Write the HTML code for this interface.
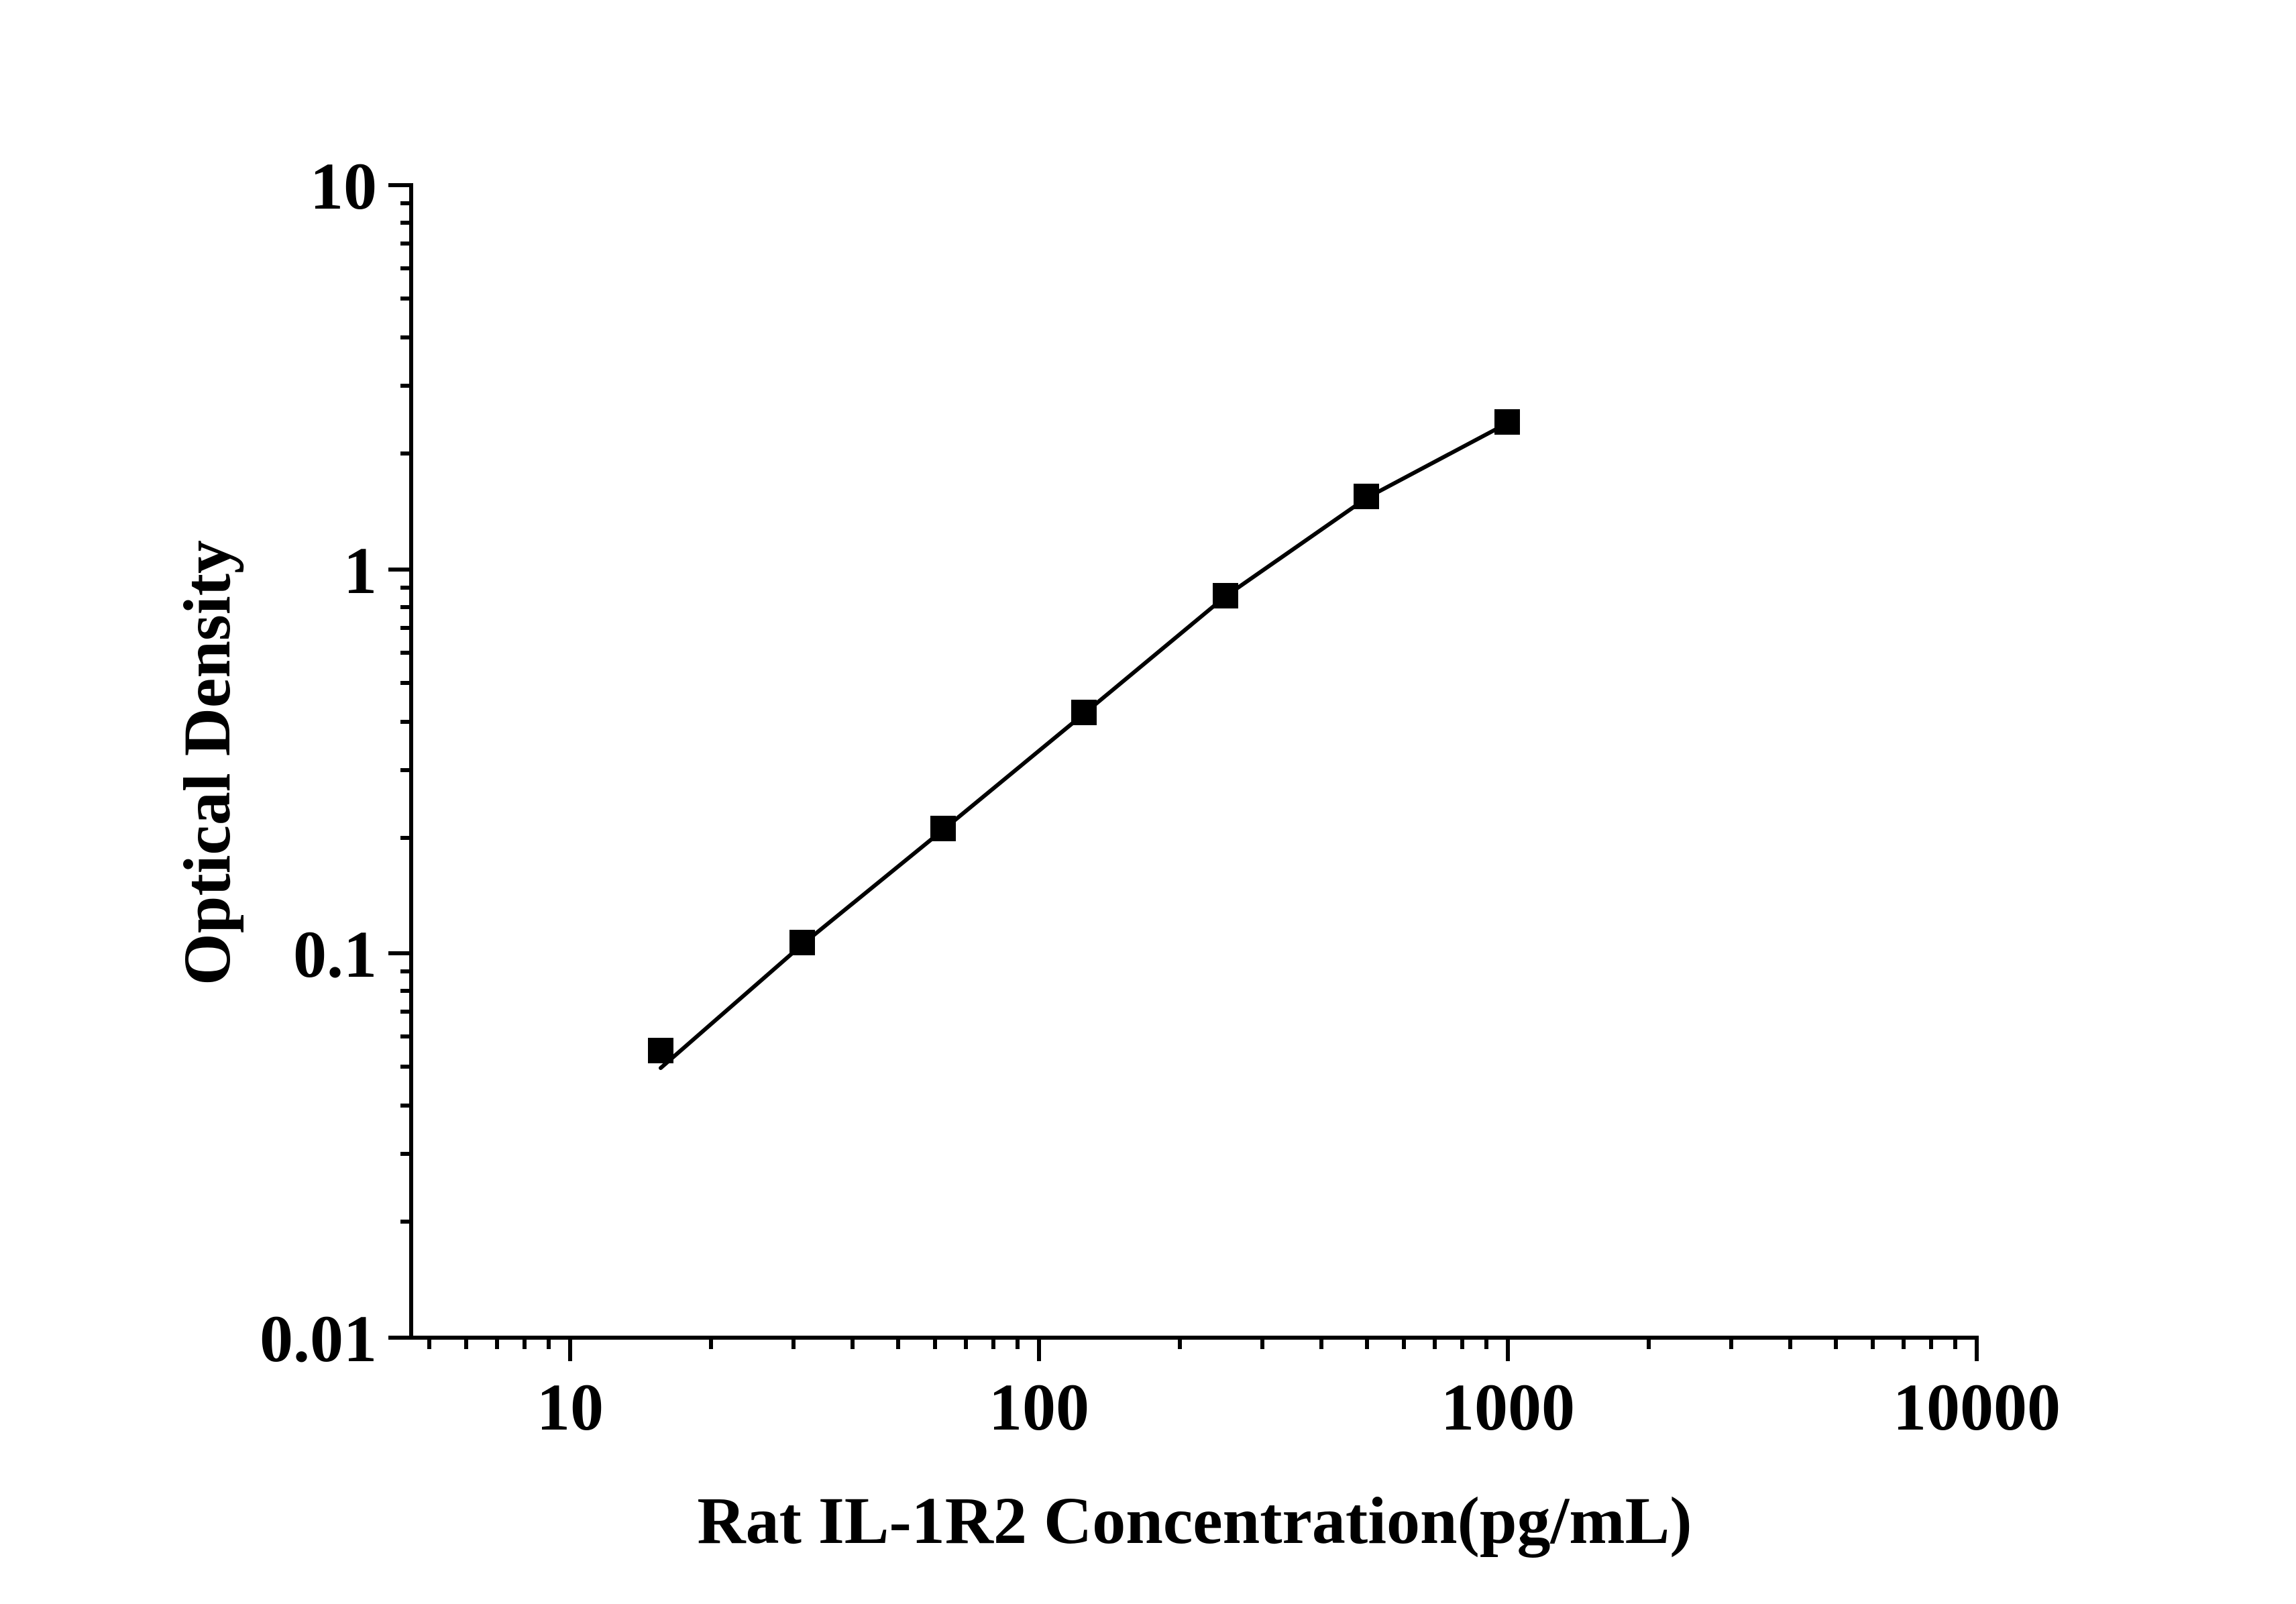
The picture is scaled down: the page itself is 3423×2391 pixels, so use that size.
<!DOCTYPE html>
<html><head><meta charset="utf-8"><style>
html,body{margin:0;padding:0;background:#fff;}
svg{display:block;}
text{font-family:"Liberation Serif",serif;font-weight:bold;fill:#000;}
</style></head><body>
<svg width="3423" height="2391" viewBox="0 0 3423 2391" xmlns="http://www.w3.org/2000/svg">
<rect width="3423" height="2391" fill="#fff"/>
<g stroke="#000" stroke-width="6" fill="none">
<line x1="613" y1="273" x2="613" y2="1997"/>
<line x1="580" y1="1994" x2="2950" y2="1994"/>
<!-- y major ticks -->
<line x1="579" y1="276" x2="613" y2="276"/>
<line x1="579" y1="849" x2="613" y2="849"/>
<line x1="579" y1="1421" x2="613" y2="1421"/>
<line x1="579" y1="1994" x2="613" y2="1994"/>
<!-- y minor ticks -->
<g id="ym">
<line x1="597" y1="303" x2="613" y2="303"/>
<line x1="597" y1="332" x2="613" y2="332"/>
<line x1="597" y1="363" x2="613" y2="363"/>
<line x1="597" y1="400" x2="613" y2="400"/>
<line x1="597" y1="445" x2="613" y2="445"/>
<line x1="597" y1="503" x2="613" y2="503"/>
<line x1="597" y1="575" x2="613" y2="575"/>
<line x1="597" y1="676" x2="613" y2="676"/>
</g>
<use href="#ym" y="573"/>
<use href="#ym" y="1145"/>
<!-- x major ticks -->
<line x1="850" y1="1994" x2="850" y2="2029"/>
<line x1="1549" y1="1994" x2="1549" y2="2029"/>
<line x1="2248" y1="1994" x2="2248" y2="2029"/>
<line x1="2947" y1="1994" x2="2947" y2="2029"/>
<!-- x minor ticks -->
<line x1="640" y1="1994" x2="640" y2="2011"/>
<line x1="695" y1="1994" x2="695" y2="2011"/>
<line x1="741" y1="1994" x2="741" y2="2011"/>
<line x1="782" y1="1994" x2="782" y2="2011"/>
<line x1="818" y1="1994" x2="818" y2="2011"/>
<g id="xm">
<line x1="1060" y1="1994" x2="1060" y2="2011"/>
<line x1="1183" y1="1994" x2="1183" y2="2011"/>
<line x1="1271" y1="1994" x2="1271" y2="2011"/>
<line x1="1339" y1="1994" x2="1339" y2="2011"/>
<line x1="1394" y1="1994" x2="1394" y2="2011"/>
<line x1="1440" y1="1994" x2="1440" y2="2011"/>
<line x1="1481" y1="1994" x2="1481" y2="2011"/>
<line x1="1517" y1="1994" x2="1517" y2="2011"/>
</g>
<use href="#xm" x="699"/>
<use href="#xm" x="1398"/>
</g>
<polyline points="985,1592 1196,1408 1406,1237 1616,1064 1827,889 2038,742 2247,631" fill="none" stroke="#000" stroke-width="6" stroke-linecap="round" stroke-linejoin="round"/>
<g fill="#000">
<rect x="966" y="1547" width="38" height="38"/>
<rect x="1177" y="1386" width="38" height="38"/>
<rect x="1387" y="1216" width="38" height="38"/>
<rect x="1597" y="1043" width="38" height="38"/>
<rect x="1808" y="869" width="38" height="38"/>
<rect x="2018" y="721" width="38" height="38"/>
<rect x="2228" y="610" width="38" height="38"/>
</g>
<g font-size="100" text-anchor="end">
<text x="562" y="311">10</text>
<text x="562" y="884">1</text>
<text x="562" y="1456">0.1</text>
<text x="562" y="2029">0.01</text>
</g>
<g font-size="100" text-anchor="middle">
<text x="850" y="2131">10</text>
<text x="1549" y="2131">100</text>
<text x="2248" y="2131">1000</text>
<text x="2947" y="2131">10000</text>
</g>
<text x="1781" y="2300" font-size="100" text-anchor="middle">Rat IL-1R2 Concentration(pg/mL)</text>
<text transform="translate(342,1137) rotate(-90)" font-size="100" text-anchor="middle">Optical Density</text>
</svg>
</body></html>
